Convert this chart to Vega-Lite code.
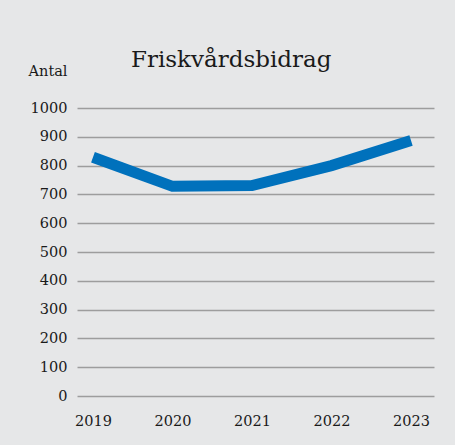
{
  "$schema": "https://vega.github.io/schema/vega-lite/v6.json",
  "width": 357,
  "height": 288,
  "autosize": {"type": "none"},
  "padding": {"left": 77, "top": 108, "right": 21, "bottom": 49},
  "background": "#e6e7e8",
  "title": {
    "text": "Friskvårdsbidrag",
    "anchor": "start",
    "frame": "group",
    "dx": 54,
    "dy": 27,
    "font": "DejaVu Serif",
    "fontSize": 23,
    "fontWeight": "normal",
    "color": "#1a1a1a",
    "baseline": "alphabetic",
    "offset": 0
  },
  "data": {
    "values": [
      {"year": "2019", "antal": 829},
      {"year": "2020", "antal": 728},
      {"year": "2021", "antal": 731},
      {"year": "2022", "antal": 800},
      {"year": "2023", "antal": 887}
    ]
  },
  "mark": {"type": "line", "color": "#0071bc", "strokeWidth": 11, "strokeCap": "butt", "strokeJoin": "miter"},
  "encoding": {
    "x": {
      "field": "year",
      "type": "ordinal",
      "scale": {"type": "point", "padding": 0.245, "align": 0.41},
      "axis": {
        "title": null,
        "labelAngle": 0,
        "domain": false,
        "ticks": false,
        "grid": false,
        "labelPadding": 18,
        "labelFont": "DejaVu Serif",
        "labelFontSize": 14.5,
        "labelColor": "#1a1a1a"
      }
    },
    "y": {
      "field": "antal",
      "type": "quantitative",
      "scale": {"domain": [0, 1000], "nice": false},
      "axis": {
        "values": [0, 100, 200, 300, 400, 500, 600, 700, 800, 900, 1000],
        "format": "d",
        "title": "Antal",
        "titleAngle": 0,
        "titleAlign": "right",
        "titleBaseline": "alphabetic",
        "titleX": -10,
        "titleY": -33,
        "titleFont": "DejaVu Serif",
        "titleFontSize": 14.5,
        "titleFontWeight": "normal",
        "titleColor": "#1a1a1a",
        "domain": false,
        "ticks": false,
        "gridColor": "#9d9d9d",
        "gridWidth": 1.3,
        "labelPadding": 10,
        "labelFont": "DejaVu Serif",
        "labelFontSize": 14.5,
        "labelColor": "#1a1a1a"
      }
    }
  },
  "config": {"view": {"stroke": null}}
}
